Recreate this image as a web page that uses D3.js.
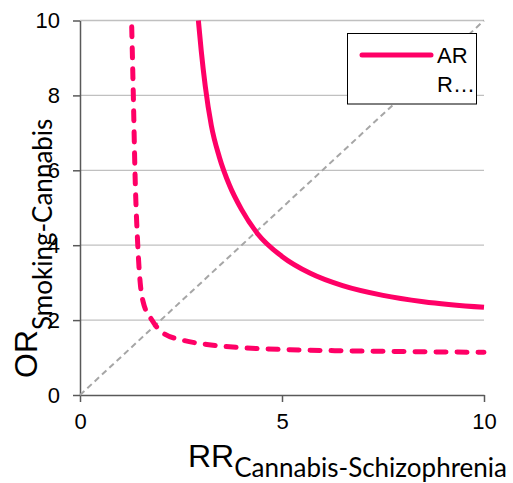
<!DOCTYPE html>
<html>
<head>
<meta charset="utf-8">
<script src="https://cdn.jsdelivr.net/npm/d3@7"></script>
<style>
  body { margin: 0; background: #fff; }
  svg { display: block; }
  text { font-family: "Liberation Sans", Arial, sans-serif; fill: #000; }
</style>
</head>
<body>
<svg id="chart" width="513" height="483"></svg>
<script>
// curve: solid line (legend "AR")
const solidX = [2.93, 3.0, 3.1, 3.25, 3.45, 3.7, 4.0, 4.4, 5.0, 5.7, 6.5, 7.5, 8.5, 10];
const solidY = [10, 9.2, 8.25, 7.2, 6.35, 5.6, 4.95, 4.3, 3.7, 3.25, 2.92, 2.66, 2.49, 2.34];
// dashed line (legend "R...")
const dashedX = [1.28, 1.32, 1.36, 1.43, 1.49, 1.56, 1.78, 2.06, 2.52, 3.14, 4.04, 5.2, 6.5, 8, 10];
const dashedY = [9.83, 8, 6, 4, 3.0, 2.5, 2.0, 1.65, 1.47, 1.35, 1.26, 1.21, 1.18, 1.16, 1.14];
// reference diagonal
const diagX = [0, 10];
const diagY = [0, 10];

const xTicks = [0, 5, 10];
const yTicks = [0, 2, 4, 6, 8, 10];
const legendLabels = ['AR', 'R…'];

const pink = '#ff0066';
const svg = d3.select('#chart');

const x = d3.scaleLinear().domain([0, 10]).range([80, 484]);
const y = d3.scaleLinear().domain([0, 10]).range([395, 20.5]);

// gridlines
svg.append('g')
  .selectAll('line')
  .data(yTicks.filter(d => d > 0))
  .join('line')
  .attr('x1', x(0)).attr('x2', x(10))
  .attr('y1', d => y(d)).attr('y2', d => y(d))
  .attr('stroke', '#c0c0c0')
  .attr('stroke-width', 1.3);

// axes
const yAxis = svg.append('g')
  .attr('transform', `translate(${x(0)},0)`)
  .call(d3.axisLeft(y).tickValues(yTicks).tickSize(7).tickPadding(13).tickSizeOuter(0));
const xAxis = svg.append('g')
  .attr('transform', `translate(0,${y(0)})`)
  .call(d3.axisBottom(x).tickValues(xTicks).tickSize(7).tickPadding(11).tickSizeOuter(0));

[yAxis, xAxis].forEach(g => {
  g.select('.domain').attr('stroke', '#595959').attr('stroke-width', 1.5);
  g.selectAll('.tick line').attr('stroke', '#595959').attr('stroke-width', 1.5);
  g.selectAll('.tick text')
    .attr('font-size', 22)
    .attr('font-family', '"Liberation Sans", Arial, sans-serif')
    .attr('fill', '#000');
});

const line = d3.line()
  .x(d => x(d[0]))
  .y(d => y(d[1]));

// diagonal
svg.append('path')
  .datum(d3.zip(diagX, diagY))
  .attr('d', line)
  .attr('fill', 'none')
  .attr('stroke', '#a6a6a6')
  .attr('stroke-width', 2)
  .attr('stroke-dasharray', '6,4');

const curve = d3.line()
  .x(d => x(d[0]))
  .y(d => y(d[1]))
  .curve(d3.curveMonotoneX);

svg.append('path')
  .datum(d3.zip(dashedX, dashedY))
  .attr('d', curve)
  .attr('fill', 'none')
  .attr('stroke', pink)
  .attr('stroke-width', 5)
  .attr('stroke-linecap', 'round')
  .attr('stroke-dasharray', '10,11');

svg.append('path')
  .datum(d3.zip(solidX, solidY))
  .attr('d', curve)
  .attr('fill', 'none')
  .attr('stroke', pink)
  .attr('stroke-width', 5);

// legend
const legend = svg.append('g');
legend.append('rect')
  .attr('x', 347.5).attr('y', 33.5)
  .attr('width', 129).attr('height', 70.5)
  .attr('fill', '#fff')
  .attr('stroke', '#000')
  .attr('stroke-width', 1);
legend.append('line')
  .attr('x1', 362).attr('x2', 431)
  .attr('y1', 55).attr('y2', 55)
  .attr('stroke', pink)
  .attr('stroke-width', 5)
  .attr('stroke-linecap', 'round');
legend.selectAll('text')
  .data(legendLabels)
  .join('text')
  .attr('x', 437)
  .attr('y', (d, i) => 63 + i * 29)
  .attr('font-size', 22)
  .text(d => d);

// x title
const xt = svg.append('text')
  .attr('x', 188)
  .attr('y', 467);
xt.append('tspan').attr('font-size', 32).text('RR');
xt.append('tspan')
  .attr('dy', 10)
  .attr('font-size', 26)
  .attr('font-family', 'Lato, "Open Sans", sans-serif')
  .text('Cannabis-Schizophrenia');

// y title
const yt = svg.append('text')
  .attr('transform', 'translate(37,378) rotate(-90)');
yt.append('tspan').attr('font-size', 32).text('OR');
yt.append('tspan')
  .attr('dy', 15)
  .attr('font-size', 26)
  .attr('font-family', 'Lato, "Open Sans", sans-serif')
  .text('Smoking-Cannabis');
</script>
</body>
</html>
